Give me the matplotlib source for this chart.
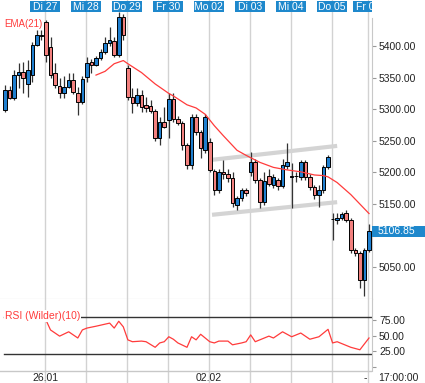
import numpy as np
import matplotlib
matplotlib.use("Agg")
import matplotlib.pyplot as plt
from matplotlib.patches import Rectangle
from matplotlib import transforms

plt.rcParams['font.family'] = ['Liberation Sans', 'DejaVu Sans']

# hourly candles, 9 per day (Mo 26 .. Fr 06)
opens = [5299, 5330, 5318, 5354, 5359, 5340, 5354, 5402, 5416,
         5438, 5398, 5357, 5337, 5326, 5335, 5346, 5326, 5311,
         5351, 5375, 5370, 5381, 5391, 5405, 5408, 5386, 5446,
         5365, 5319, 5310, 5322, 5306, 5305, 5297, 5254, 5280,
         5283, 5316, 5284, 5278, 5243, 5212, 5288, 5264, 5235,
         5248, 5202, 5172, 5201, 5198, 5191, 5148, 5160, 5172,
         5200, 5217, 5188, 5153, 5195, 5180, 5188, 5178, 5210,
         5193, 5194, 5193, 5216, 5193, 5177, 5164, 5172, 5209,
         5126, 5125, 5128, 5136, 5125, 5077, 5073, 5030,
         5077]
highs = [5338, 5337, 5362, 5373, 5375, 5378, 5406, 5425, 5425,
         5441, 5414, 5373, 5349, 5352, 5357, 5357, 5335, 5352,
         5383, 5380, 5385, 5396, 5414, 5430, 5414, 5454, 5451,
         5370, 5334, 5334, 5330, 5320, 5314, 5300, 5288, 5303,
         5326, 5326, 5290, 5282, 5246, 5292, 5292, 5267, 5293,
         5255, 5206, 5205, 5220, 5205, 5200, 5163, 5175, 5175,
         5232, 5222, 5192, 5200, 5205, 5198, 5192, 5222, 5247,
         5215, 5200, 5220, 5220, 5198, 5180, 5180, 5212, 5228,
         5136, 5136, 5138, 5140, 5128, 5080, 5076, 5080,
         5118]
lows = [5296, 5316, 5314, 5334, 5326, 5320, 5343, 5400, 5410,
        5375, 5350, 5334, 5318, 5318, 5333, 5324, 5291, 5308,
        5343, 5358, 5368, 5378, 5388, 5400, 5383, 5383, 5410,
        5315, 5294, 5305, 5296, 5296, 5294, 5250, 5243, 5270,
        5254, 5280, 5275, 5236, 5205, 5205, 5260, 5223, 5230,
        5200, 5165, 5168, 5190, 5185, 5145, 5140, 5155, 5162,
        5195, 5183, 5143, 5148, 5178, 5175, 5172, 5175, 5205,
        5143, 5185, 5188, 5188, 5172, 5158, 5145, 5168, 5205,
        5093, 5118, 5125, 5122, 5072, 5068, 5017, 5004,
        5074]
closes = [5330, 5318, 5354, 5359, 5349, 5362, 5402, 5417, 5418,
          5386, 5354, 5338, 5326, 5335, 5346, 5327, 5311, 5348,
          5373, 5370, 5381, 5391, 5405, 5409, 5386, 5446, 5417,
          5319, 5310, 5322, 5304, 5302, 5297, 5254, 5280, 5272,
          5316, 5284, 5278, 5243, 5212, 5288, 5264, 5239, 5288,
          5204, 5172, 5201, 5197, 5192, 5152, 5160, 5172, 5167,
          5217, 5188, 5153, 5186, 5182, 5193, 5178, 5212, 5217,
          5194, 5195, 5216, 5193, 5177, 5164, 5172, 5209, 5224,
          5127, 5128, 5134, 5125, 5077, 5073, 5030, 5077,
          5106.85]

ema_x = [20, 22, 24, 26, 27, 30, 33, 36, 37, 40, 42, 44, 46, 48, 51, 53,
         56, 59, 62, 65, 68, 70, 71, 73, 76, 78, 80]
ema_vals = [5354, 5360, 5372, 5377, 5372, 5358, 5340, 5325, 5321, 5307,
            5302, 5292, 5274, 5258, 5235, 5227, 5216, 5208, 5204, 5201,
            5196, 5195, 5193, 5184, 5165, 5150, 5135]

rsi_x = [9, 10, 12, 14, 16, 17, 18, 20, 23, 24, 25, 26, 27, 28, 30, 31, 33,
         34, 35, 36, 37, 38, 40, 41, 42, 43, 45, 46, 47, 49, 50, 52, 53, 54,
         55, 58, 59, 61, 63, 65, 67, 69, 71, 72, 73, 76, 78, 80]
rsi_vals = [75, 59, 49, 56, 46, 59, 62, 65, 70, 62, 73, 64, 43, 40, 41, 40,
            31, 38, 40, 48, 44, 38, 31, 48, 43, 52, 40, 38, 41, 41, 35, 38,
            40, 51, 40, 49, 46, 56, 48, 54, 44, 48, 60, 38, 40, 31, 27, 46]

channel_x = [45.5, 73]
channel_upper = [5220, 5242]
channel_lower = [5133, 5153]

day_labels = ["Di 27", "Mi 28", "Do 29", "Fr 30", "Mo 02", "Di 03", "Mi 04", "Do 05", "Fr 06"]
day_starts = [9, 18, 27, 36, 45, 54, 63, 72, 80]
date_labels = ["26.01", "02.02"]
date_starts = [9, 45]
price_ticks = [5050, 5100, 5150, 5200, 5250, 5300, 5350, 5400]
rsi_ticks = [0, 25, 50, 75]
rsi_levels = [80, 20]
last_price = 5106.85

BLUE = '#1f7fcf'
BOX = '#1e88cc'
RED = '#f2807e'
LINE_RED = '#ff3b3b'
GRID = '#d2d2d2'
TXT = '#222222'

W, H = 425, 383
fig = plt.figure(figsize=(W / 100, H / 100), dpi=100)
ax = fig.add_axes([0, 84 / H, 372 / W, 299 / H])
ax_rsi = fig.add_axes([0, 0, 372 / W, 84 / H])

x = np.arange(len(closes))
o = np.array(opens, dtype=float)
c = np.array(closes, dtype=float)
up = c >= o

# --- price panel
for d in day_starts:
    ax.axvline(d - 0.2, color=GRID, lw=1, zorder=0)
    ax_rsi.axvline(d - 0.2, color=GRID, lw=1, zorder=0)

ax.plot(channel_x, channel_upper, color='#d4d4d4', lw=3, solid_capstyle='butt', zorder=1)
ax.plot(channel_x, channel_lower, color='#d4d4d4', lw=3, solid_capstyle='butt', zorder=1)

ax.vlines(x, lows, highs, color='#333333', lw=0.9, zorder=2)
body_bottom = np.minimum(o, c)
body_h = np.maximum(np.abs(c - o), 0.6)
ax.bar(x, body_h, bottom=body_bottom, width=0.78,
       color=np.where(up, BLUE, RED), edgecolor='black', linewidth=0.7, zorder=3)

ax.plot(ema_x, ema_vals, color=LINE_RED, lw=0.9, zorder=4)

ax.set_xlim(-1.1, 80.66)
ax.set_ylim(4999.8, 5472.8)
ax.yaxis.tick_right()
ax.set_yticks(price_ticks)
ax.set_yticklabels(['' if p == 5100 else f'{p:.2f}' for p in price_ticks])
ax.tick_params(axis='y', length=3, width=0.8, color='#999999', pad=2,
               labelsize=7.5, labelcolor=TXT)
ax.set_xticks([])
for s in ['top', 'left']:
    ax.spines[s].set_visible(False)
ax.spines['right'].set_color('#c8c8c8')
ax.spines['right'].set_bounds(4999.8, 5444)
ax.spines['bottom'].set_color('#c8c8c8')

ax.text(4 / 372, 1 - 24 / 299, 'EMA(21)', transform=ax.transAxes, color=LINE_RED,
        fontsize=7, va='center', ha='left', zorder=6)

# day label boxes along top
top_tr = transforms.blended_transform_factory(ax.transData, ax.transAxes)
for d, lab in zip(day_starts, day_labels):
    ax.add_patch(Rectangle((d - 0.2 - 3.3, 1 - 12 / 299), 6.6, 11 / 299,
                           transform=top_tr, facecolor=BOX, edgecolor='none', zorder=7))
    ax.text(d - 0.2, 1 - 6.5 / 299, lab, transform=top_tr, color='white', fontsize=7.5,
            ha='center', va='center', zorder=8, clip_on=True)

# last price box
box_tr = transforms.blended_transform_factory(fig.transFigure, ax.transData)
fig.patches.append(Rectangle((372 / W, last_price - 9.0), 53 / W, 18.0, transform=box_tr,
                             facecolor=BOX, edgecolor='none', figure=fig))
fig.text(378 / W, last_price, f'{last_price:.2f}', transform=box_tr, color='white',
         fontsize=7.5, va='center', ha='left')

# --- RSI panel
ax_rsi.plot(rsi_x, rsi_vals, color=LINE_RED, lw=0.9, zorder=4)
for lv in rsi_levels:
    ax_rsi.axhline(lv, xmin=4 / 372, color='#333333', lw=1, zorder=2)
ax_rsi.set_xlim(-1.1, 80.66)
ax_rsi.set_ylim(-26.6, 108.9)
ax_rsi.axhline(-7.3, color='#c8c8c8', lw=1, zorder=1)
ax_rsi.yaxis.tick_right()
ax_rsi.set_yticks(rsi_ticks)
ax_rsi.set_yticklabels(['' if v == 0 else f'{v:.2f}' for v in rsi_ticks])
ax_rsi.tick_params(axis='y', length=3, width=0.8, color='#999999', pad=2,
                   labelsize=7.5, labelcolor=TXT)
ax_rsi.set_xticks([])
for s in ['top', 'left', 'bottom']:
    ax_rsi.spines[s].set_visible(False)
ax_rsi.spines['right'].set_color('#c8c8c8')
ax_rsi.spines['right'].set_bounds(-7.3, 108.9)

ax_rsi.text(5 / 372, (383 - 316) / 84, 'RSI (Wilder)(10)', transform=ax_rsi.transAxes,
            color=LINE_RED, fontsize=7.5, va='center', ha='left', zorder=6,
            bbox=dict(facecolor='white', edgecolor='none', pad=0.5))

for d, lab in zip(date_starts, date_labels):
    ax_rsi.text(d - 0.2, -18.6, lab, color=TXT, fontsize=7.5, ha='center', va='center')

fig.text(365 / W, 5 / H, '-', color=TXT, fontsize=7.5, ha='center', va='center')
fig.text(378 / W, 5 / H, '17:00:00', color=TXT, fontsize=7.5, ha='left', va='center')

fig.savefig('out.png', dpi=100)
